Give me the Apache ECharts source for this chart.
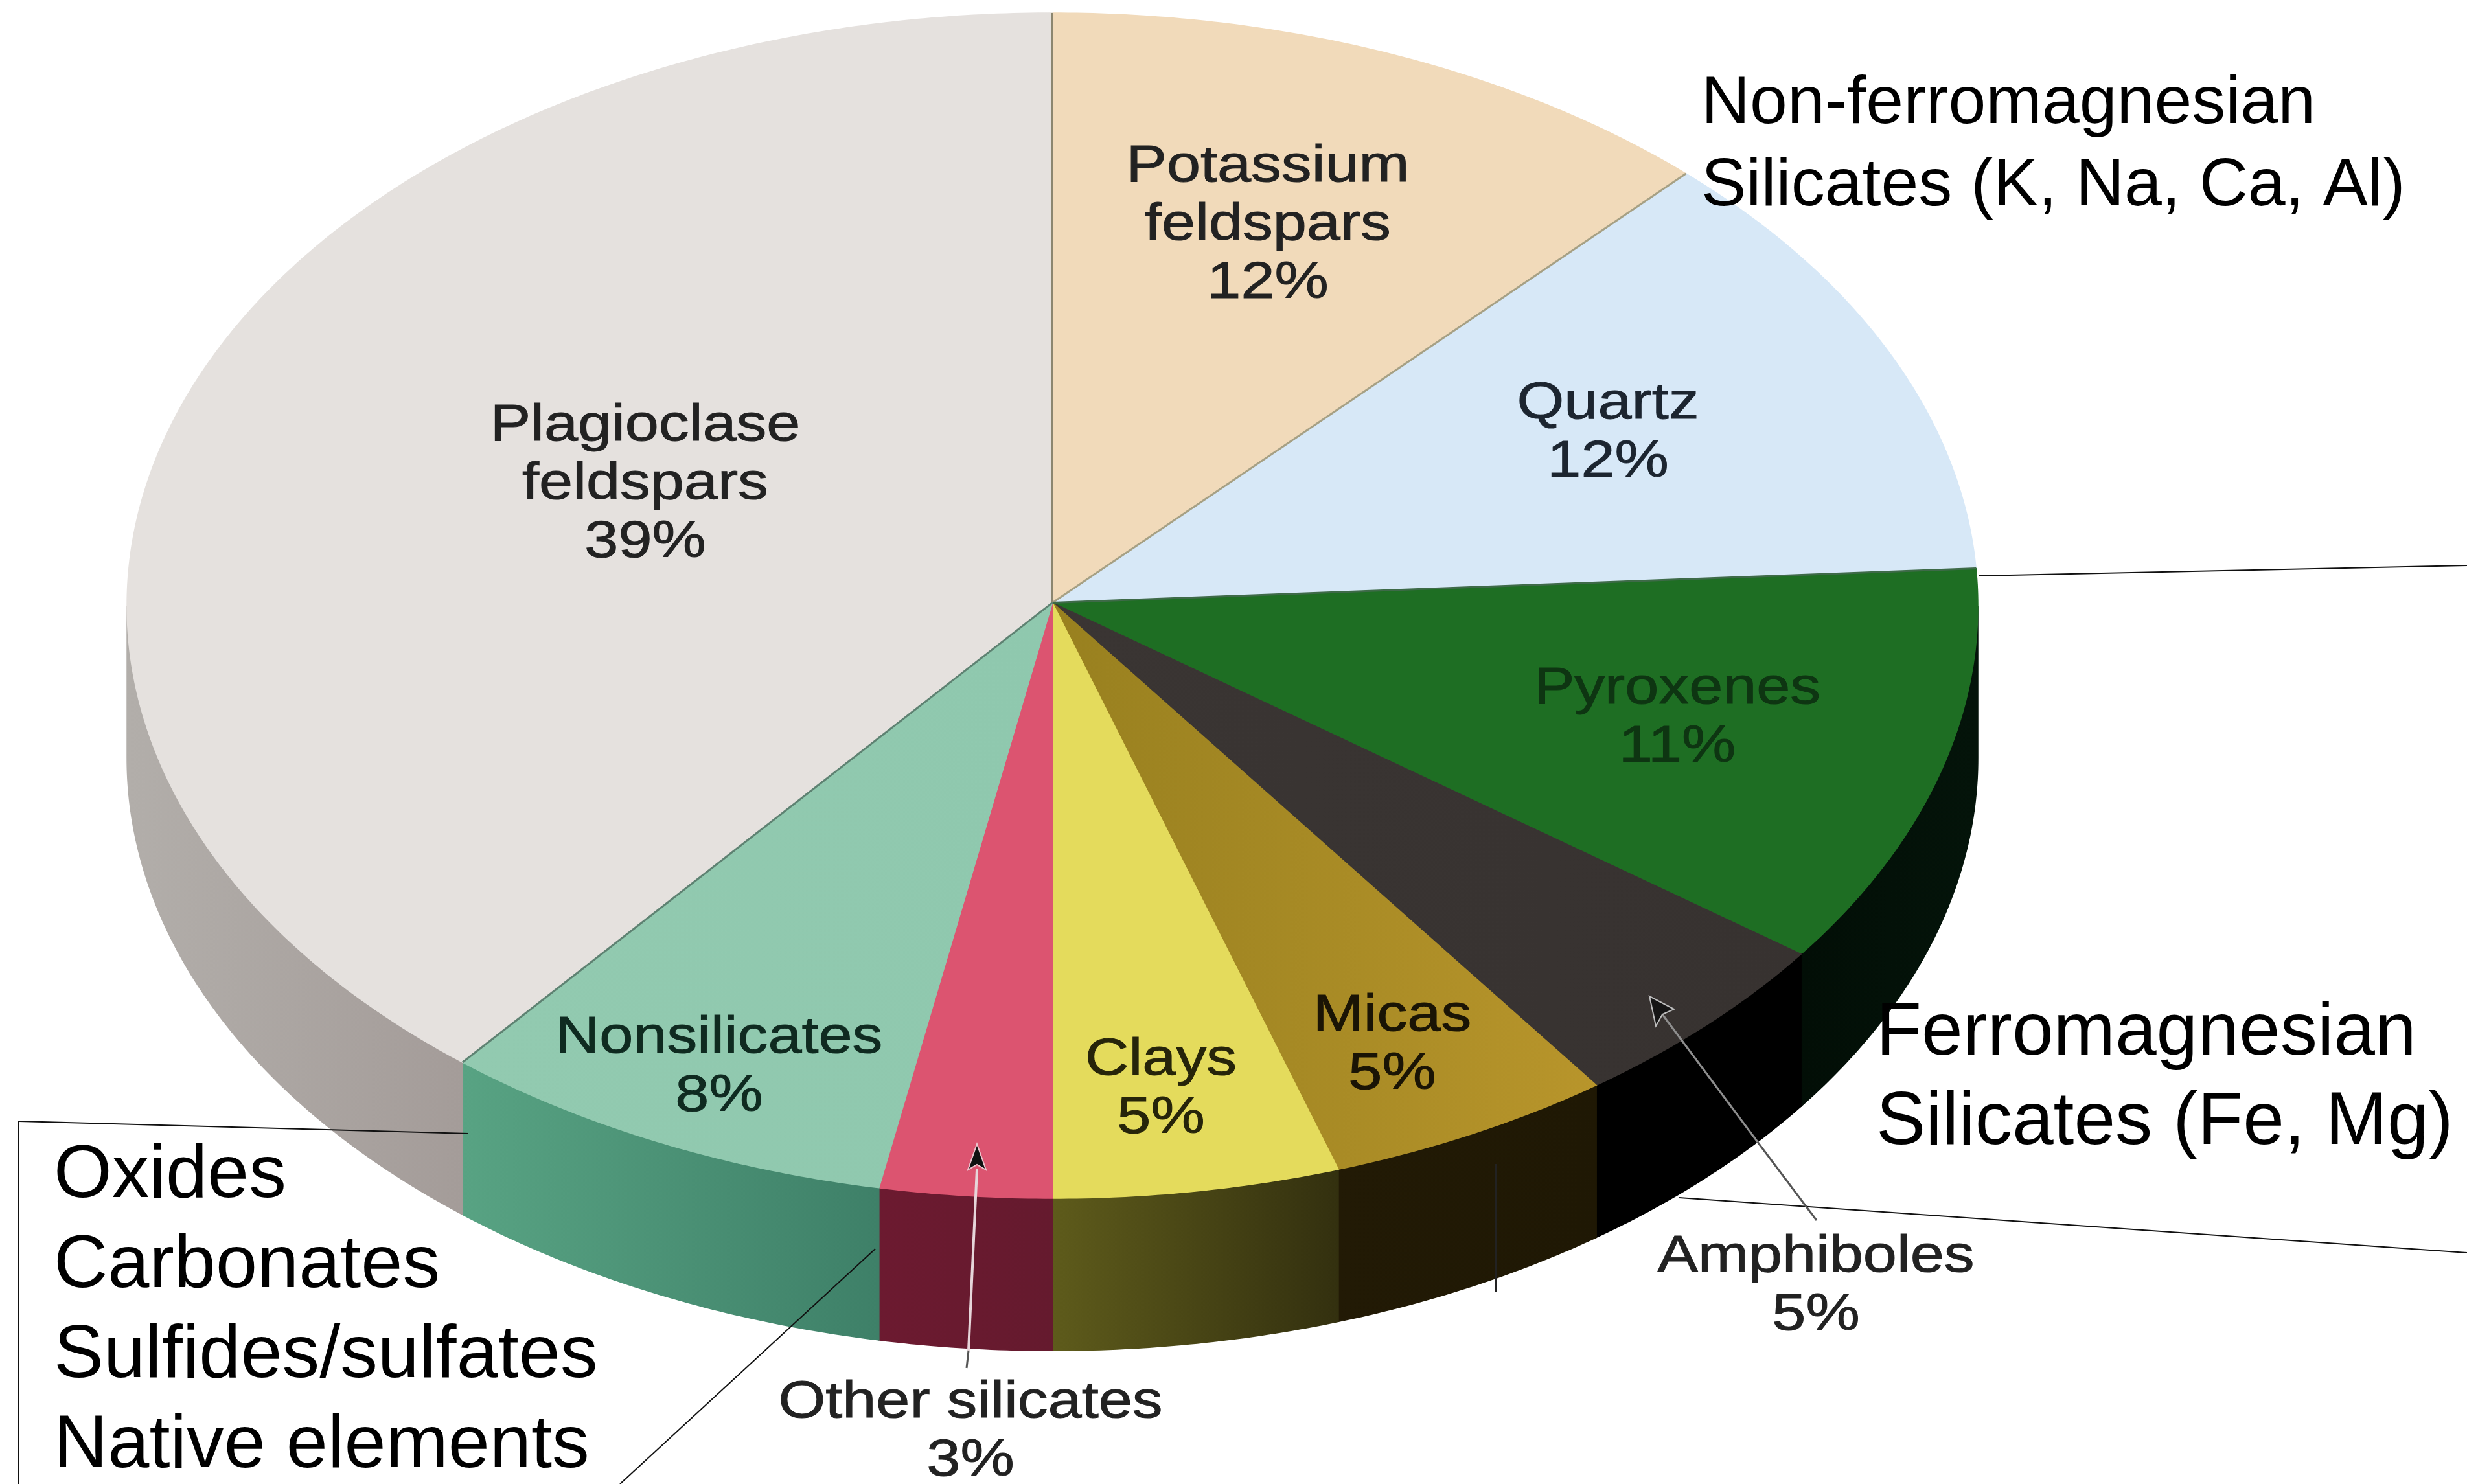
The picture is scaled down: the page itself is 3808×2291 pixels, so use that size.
<!DOCTYPE html>
<html>
<head>
<meta charset="utf-8">
<title>Minerals in the crust</title>
<style>
  html, body { margin: 0; padding: 0; background: #fff; }
  #main { width: 3808px; height: 2291px; }
</style>
<script src="https://cdn.jsdelivr.net/npm/echarts@6/dist/echarts.min.js"></script>
</head>
<body>
<div id="main"></div>
<script>
// data, clockwise from 12 o'clock
const categories = ['Potassium\nfeldspars', 'Quartz', 'Pyroxenes', 'Amphiboles', 'Micas', 'Clays', 'Other silicates', 'Nonsilicates', 'Plagioclase\nfeldspars'];
const percents = [12, 12, 11, 5, 5, 5, 3, 8, 39];
const noteSilicateA = ['Non-ferromagnesian', 'Silicates (K, Na, Ca, Al)'];
const noteSilicateB = ['Ferromagnesian', 'Silicates (Fe, Mg)'];
const noteOthers = ['Oxides', 'Carbonates', 'Sulfides/sulfates', 'Native elements'];

// colours, same order as categories
const topColors = [
  ['#F1DABA', '#F1DABA'], ['#D7E8F7', '#D7E8F7'], ['#1E6E23', '#1E6E23'],
  ['#3A3533', '#373230'], ['#98801F', '#B8952B'], ['#E4DB5C', '#E4DB5C'],
  ['#DC5470', '#DC5470'], ['#92CAB0', '#8FC8AE'], ['#E5E1DE', '#E5E1DE']
];
const sideColors = [
  ['#000', '#000'], ['#000', '#000'], ['#020E06', '#04140A'],
  ['#000000', '#000000'], ['#221A05', '#1F1804'], ['#5E5B1B', '#33300F'],
  ['#6C1A30', '#651A2E'], ['#58A383', '#3E8068'], ['#B2AEAA', '#A49C99']
];
const edgeColors = ['#8C8670', '#A6A084', '#3E6A48', null, null, null, null, null, '#5E8272'];

// top of the first label line in page pixels, same order as categories
const labelPos = [[1957, 213], [2482, 579], [2589, 1019], [2803, 1896], [2149, 1524], [1792, 1592], [1498, 2121], [1110, 1558], [996, 613]];
const labelFills = ['#222', '#1c2530', '#0E3512', '#222', '#1a1405', '#26240a', '#222', '#0f2a20', '#222'];

const total = percents.reduce((a, b) => a + b, 0);
const depth = 0.257; // thickness of the disc in y axis units
const hubY = 0.005; // the radial lines meet a little above the middle of the ellipse
const font = '"Liberation Sans", Arial, sans-serif';

function sliceItem(params, api) {
  const i = params.dataIndex;
  let before = 0;
  for (let k = 0; k < i; k++) before += percents[k];
  const a0 = before / total * 360;
  const a1 = (before + percents[i]) / total * 360;
  const pt = (deg, drop) => {
    const r = deg * Math.PI / 180;
    return api.coord([Math.sin(r), Math.cos(r) - drop]);
  };
  const children = [];

  // side wall only exists on the front half
  const s0 = Math.max(a0, 90), s1 = Math.min(a1, 270);
  if (s1 > s0) {
    const wall = [];
    for (let d = s0; d < s1; d += 0.5) wall.push(pt(d, 0));
    wall.push(pt(s1, 0));
    for (let d = s1; d > s0; d -= 0.5) wall.push(pt(d, depth));
    wall.push(pt(s0, depth));
    const grad = new echarts.graphic.LinearGradient(0, 0, 1, 0, [
      { offset: 0, color: sideColors[i][0] }, { offset: 1, color: sideColors[i][1] }
    ]);
    children.push({ type: 'polygon', shape: { points: wall }, style: { fill: grad, stroke: grad, lineWidth: 1.5 } });
  }

  const top = [api.coord([0, hubY])];
  for (let d = a0; d < a1; d += 0.5) top.push(pt(d, 0));
  top.push(pt(a1, 0));
  const topGrad = new echarts.graphic.LinearGradient(0, 0, 1, 0, [
    { offset: 0, color: topColors[i][0] }, { offset: 1, color: topColors[i][1] }
  ]);
  children.push({ type: 'polygon', shape: { points: top }, style: { fill: topGrad, stroke: topGrad, lineWidth: 1.5 } });
  return { type: 'group', children: children };
}

// drawn after all the slices so that no slice covers them
function labelItem(params, api) {
  const i = params.dataIndex;
  const children = [];
  if (edgeColors[i]) {
    let before = 0;
    for (let k = 0; k < i; k++) before += percents[k];
    const r = before / total * 2 * Math.PI;
    const c = api.coord([0, hubY]);
    const p = api.coord([Math.sin(r), Math.cos(r)]);
    children.push({ type: 'line', shape: { x1: c[0], y1: c[1], x2: p[0], y2: p[1] }, style: { stroke: edgeColors[i], lineWidth: 3 } });
  }
  children.push({
    type: 'text', x: labelPos[i][0], y: labelPos[i][1], scaleX: 1.17,
    style: {
      text: categories[i] + '\n' + percents[i] + '%',
      font: '80px ' + font, fill: labelFills[i],
      stroke: labelFills[i], lineWidth: 1,
      align: 'center', verticalAlign: 'top', lineHeight: 90
    }
  });
  return { type: 'group', children: children };
}

function noteText(lines, x, y, size, lineGap) {
  return lines.map((t, i) => ({
    type: 'text', x: x, y: y + i * lineGap, silent: true, z: 20,
    style: { text: t, font: size + 'px ' + font, fill: '#000', align: 'left', verticalAlign: 'middle' }
  }));
}
function segment(x1, y1, x2, y2, color, width) {
  return { type: 'line', silent: true, z: 20, shape: { x1, y1, x2, y2 }, style: { stroke: color, lineWidth: width || 2 } };
}

const chart = echarts.init(document.getElementById('main'));
chart.setOption({
  backgroundColor: '#fff',
  animation: false,
  grid: { left: 196, top: 20, width: 2857, height: 1830 },
  xAxis: { type: 'value', min: -1, max: 1, show: false },
  yAxis: { type: 'value', min: -1, max: 1, show: false },
  series: [
    { type: 'custom', renderItem: sliceItem, data: percents.map((v, i) => [i, v]), silent: true, z: 2 },
    { type: 'custom', renderItem: labelItem, data: percents.map((v, i) => [i, v]), silent: true, z: 3 }
  ],
  graphic: {
    z: 20,
    elements: [
      // leader lines
      segment(3055, 889, 3808, 873, '#111', 2),
      segment(2592, 1849, 3808, 1934, '#111', 2),
      segment(29, 1731, 723, 1750, '#111', 2),
      segment(29, 1731, 29, 2291, '#111', 2),
      segment(1351, 1928, 957, 2291, '#111', 2),
      segment(2309, 1797, 2309, 1994, '#222', 2),
      // other silicates arrow
      segment(1495, 2085, 1508, 1805, '#E6D6DA', 4),
      segment(1492, 2112, 1495, 2085, '#555', 3),
      { type: 'polygon', silent: true, z: 20, shape: { points: [[1508, 1766], [1494, 1806], [1508, 1798], [1522, 1806]] }, style: { fill: '#111', stroke: '#EBC3CC', lineWidth: 2 } },
      // amphiboles arrow
      segment(2804, 1884, 2713, 1763, '#555', 3),
      segment(2713, 1763, 2566, 1566, '#8E8E8E', 3),
      { type: 'polygon', silent: true, z: 20, shape: { points: [[2546, 1538], [2556, 1584], [2566, 1566], [2584, 1558]] }, style: { fill: '#151515', stroke: '#BDBDBD', lineWidth: 2 } },
      ...noteText(noteSilicateA, 2626, 161, 104, 127),
      ...noteText(noteSilicateB, 2896, 1596, 114.5, 138),
      ...noteText(noteOthers, 83, 1816, 115.3, 139)
    ]
  }
});
</script>
</body>
</html>
